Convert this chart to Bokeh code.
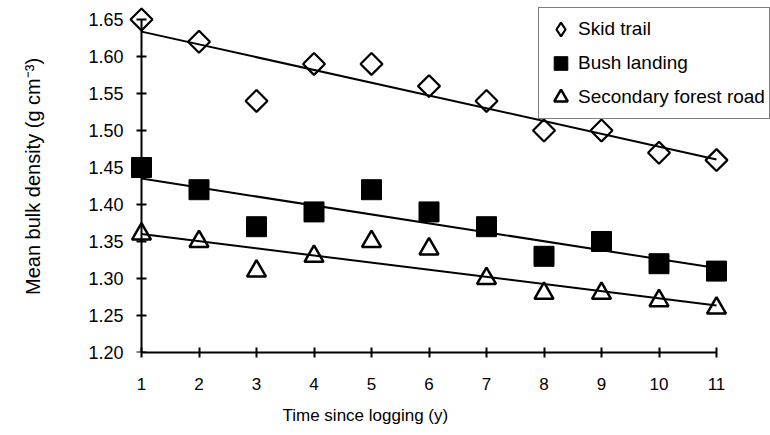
import numpy as np
from bokeh.plotting import figure
from bokeh.models import (Range1d, FixedTicker, LinearAxis, Legend, LegendItem,
                          Title, NumeralTickFormatter, CustomLabelingPolicy)
from bokeh.embed import file_html
from bokeh.resources import INLINE

# ---- data ----
years = [1, 2, 3, 4, 5, 6, 7, 8, 9, 10, 11]
skid_trail = [1.65, 1.62, 1.54, 1.59, 1.59, 1.56, 1.54, 1.50, 1.50, 1.47, 1.46]
bush_landing = [1.45, 1.42, 1.37, 1.39, 1.42, 1.39, 1.37, 1.33, 1.35, 1.32, 1.31]
secondary_road = [1.36, 1.35, 1.31, 1.33, 1.35, 1.34, 1.30, 1.28, 1.28, 1.27, 1.26]
y_ticks = [1.20, 1.25, 1.30, 1.35, 1.40, 1.45, 1.50, 1.55, 1.60, 1.65]
x_ticks = [1, 2, 3, 4, 5, 6, 7, 8, 9, 10, 11]
series_names = ["Skid trail", "Bush landing", "Secondary forest road"]

FONT = "Liberation Sans"

p = figure(width=770, height=435, output_backend="svg", toolbar_location=None,
           x_range=Range1d(0.7739, 11.9391), y_range=Range1d(1.20, 1.6757),
           x_axis_type=None, y_axis_type=None,
           min_border_left=128, min_border_right=0, min_border_top=0,
           min_border_bottom=83)
p.outline_line_color = None
p.background_fill_color = "white"
p.border_fill_color = "white"

# ---- y axis: line + cross ticks drawn at x = 1 (no labels) ----
no_labels = CustomLabelingPolicy(code="""
for (const i of [...indices]) { indices.unset(i) }
return indices
""")
yline = LinearAxis(ticker=FixedTicker(ticks=y_ticks), fixed_location=x_ticks[0],
                   bounds=(y_ticks[0], y_ticks[-1]), major_label_policy=no_labels)
yline.axis_line_width = 2
yline.axis_line_color = "black"
yline.major_tick_line_width = 2
yline.major_tick_line_color = "black"
yline.major_tick_in = 5
yline.major_tick_out = 5
yline.minor_tick_line_color = None
yline.major_label_standoff = 0
p.add_layout(yline, "left")

# ---- y axis: tick labels and title ----
ylab = LinearAxis(ticker=FixedTicker(ticks=y_ticks),
                  formatter=NumeralTickFormatter(format="0.00"),
                  axis_label="Mean bulk density (g cm\u207b\u00b3)")
ylab.axis_line_color = None
ylab.major_tick_line_color = None
ylab.minor_tick_line_color = None
ylab.major_tick_in = 0
ylab.major_tick_out = 0
ylab.major_label_standoff = 5
ylab.major_label_text_font = FONT
ylab.major_label_text_font_size = "18px"
ylab.major_label_text_color = "black"
ylab.axis_label_text_font = FONT
ylab.axis_label_text_font_size = "20px"
ylab.axis_label_text_font_style = "normal"
ylab.axis_label_text_color = "black"
ylab.axis_label_standoff = 41
p.add_layout(ylab, "left")

# ---- x axis ----
xaxis = LinearAxis(ticker=FixedTicker(ticks=x_ticks), bounds=(x_ticks[0], x_ticks[-1]))
xaxis.axis_line_width = 2
xaxis.axis_line_color = "black"
xaxis.major_tick_line_width = 2
xaxis.major_tick_line_color = "black"
xaxis.major_tick_in = 5
xaxis.major_tick_out = 5
xaxis.minor_tick_line_color = None
xaxis.major_label_text_font = FONT
xaxis.major_label_text_font_size = "17px"
xaxis.major_label_text_color = "black"
xaxis.major_label_standoff = 20
p.add_layout(xaxis, "below")

xtitle = Title(text="Time since logging (y)", align="left", offset=148,
               text_font=FONT, text_font_size="17px", text_font_style="normal",
               text_color="black", padding=6)
p.add_layout(xtitle, "below")

# ---- trend lines (least squares fit of each series) ----
for vals in (skid_trail, bush_landing, secondary_road):
    slope, intercept = np.polyfit(years, vals, 1)
    xs = [years[0], years[-1]]
    ys = [slope * x + intercept for x in xs]
    p.line(xs, ys, line_color="black", line_width=2)

# ---- markers ----
r_skid = p.scatter(years, skid_trail, marker="square", angle=np.pi / 4, size=15.5,
                   fill_color=None, line_color="black", line_width=2.2)
r_bush = p.scatter(years, bush_landing, marker="square", size=20,
                   fill_color="black", line_color="black", line_width=1)
r_road = p.scatter(years, secondary_road, marker="triangle", size=19,
                   fill_color=None, line_color="black", line_width=2.5)
# legend swatch for the diamond series (legend glyphs are drawn unrotated);
# zero size so it adds nothing to the plot area itself
r_skid_key = p.scatter(years, skid_trail, marker="diamond", size=0, fill_color=None,
                       line_color="black", line_width=2.2)

legend = Legend(items=[LegendItem(label=series_names[0], renderers=[r_skid_key]),
                       LegendItem(label=series_names[1], renderers=[r_bush]),
                       LegendItem(label=series_names[2], renderers=[r_road])],
                location=(410, 233), orientation="vertical",
                glyph_width=35, glyph_height=34, spacing=0, padding=4,
                label_standoff=0, label_height=20, margin=0,
                label_text_font=FONT, label_text_font_size="19px",
                label_text_color="black",
                border_line_color="black", border_line_width=1.5,
                background_fill_color="white", background_fill_alpha=1.0)
p.add_layout(legend)

open("out.html", "w").write(file_html(p, INLINE))
